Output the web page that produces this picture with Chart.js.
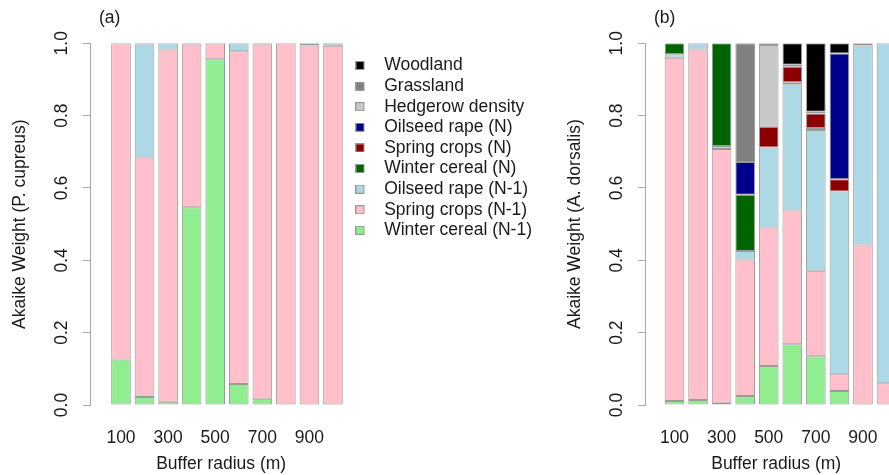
<!DOCTYPE html>
<html>
<head>
<meta charset="utf-8">
<script src="https://cdn.jsdelivr.net/npm/chart.js@4/dist/chart.umd.min.js"></script>
<style>
  html, body { margin: 0; padding: 0; background: #ffffff; }
  body { width: 889px; height: 475px; overflow: hidden; position: relative; }
  canvas { position: absolute; top: 0; }
  #cA { left: 0; }
  #cB { left: 555px; }
</style>
</head>
<body>
<canvas id="cA" width="542" height="475"></canvas>
<canvas id="cB" width="360" height="475"></canvas>
<script>
// ---- data ----
const radii = [100, 200, 300, 400, 500, 600, 700, 800, 900, 1000];
const xTickLabels = [100, 300, 500, 700, 900];
const yTicks = [0, 0.2, 0.4, 0.6, 0.8, 1.0];

const seriesNames = [
  'Winter cereal (N-1)', 'Spring crops (N-1)', 'Oilseed rape (N-1)',
  'Winter cereal (N)', 'Spring crops (N)', 'Oilseed rape (N)',
  'Hedgerow density', 'Grassland', 'Woodland'
];
const seriesColors = [
  '#90EE90', '#FFC0CB', '#ADD8E6',
  '#006400', '#8B0000', '#00008B',
  '#C8C8C8', '#808080', '#000000'
];

// Panel (a): P. cupreus
const aWinterCerealN1 = [0.126, 0.022, 0.009, 0.547, 0.956, 0.058, 0.0175, null, null, null];
const aSpringCropsN1  = [0.874, 0.662, 0.974, 0.450, 0.044, 0.920, 0.9795, 1.000, 0.994, 0.993];
const aOilseedRapeN1  = [null, 0.313, 0.017, null, null, 0.022, null, null, 0.004, 0.007];
const aWinterCerealN  = [null, null, null, null, null, null, null, null, 0.002, null];
const aSpringCropsN   = [null, null, null, 0.003, null, null, 0.003, null, null, null];
const aOilseedRapeN   = [null, null, null, null, null, null, null, null, null, null];
const aHedgerow       = [null, null, null, null, null, null, null, null, null, null];
const aGrassland      = [null, 0.003, null, null, null, null, null, null, null, null];
const aWoodland       = [null, null, null, null, null, null, null, null, null, null];

// Panel (b): A. dorsalis
const bWinterCerealN1 = [0.011, 0.014, 0.006, 0.025, 0.108, 0.168, 0.135, 0.039, null, null];
const bSpringCropsN1  = [0.949, 0.969, 0.702, 0.377, 0.383, 0.370, 0.236, 0.046, 0.444, 0.060];
const bOilseedRapeN1  = [0.010, 0.017, 0.008, 0.024, 0.221, 0.349, 0.389, 0.505, 0.550, 0.940];
const bWinterCerealN  = [0.030, null, 0.284, 0.155, null, 0.005, 0.006, null, null, null];
const bSpringCropsN   = [null, null, null, null, 0.057, 0.043, 0.040, 0.034, 0.006, null];
const bOilseedRapeN   = [null, null, null, 0.091, null, null, null, 0.348, null, null];
const bHedgerow       = [null, null, null, null, 0.226, null, null, null, null, null];
const bGrassland      = [null, null, null, 0.328, 0.005, 0.006, 0.005, null, null, null];
const bWoodland       = [null, null, null, null, null, 0.059, 0.189, 0.028, null, null];

const panelA = [aWinterCerealN1, aSpringCropsN1, aOilseedRapeN1, aWinterCerealN, aSpringCropsN, aOilseedRapeN, aHedgerow, aGrassland, aWoodland];
const panelB = [bWinterCerealN1, bSpringCropsN1, bOilseedRapeN1, bWinterCerealN, bSpringCropsN, bOilseedRapeN, bHedgerow, bGrassland, bWoodland];

// ---- styling ----
const FONT = "'Liberation Sans', Arial, sans-serif";
const FS = 17.5;
const TXT = '#1a1a1a';
const AXIS = '#a8a8a8';

function makeIcon(color) {
  const c = document.createElement('canvas');
  c.width = 20; c.height = 9;
  const g = c.getContext('2d');
  g.fillStyle = color;
  g.fillRect(0, 0, 9, 9);
  g.strokeStyle = '#9a9a9a';
  g.lineWidth = 1;
  g.strokeRect(0.5, 0.5, 8, 8);
  return c;
}
const icons = seriesColors.map(makeIcon);

const panelLabel = {
  id: 'panelLabel',
  afterDraw(chart, args, opts) {
    const ctx = chart.ctx;
    ctx.save();
    ctx.font = FS + 'px ' + FONT;
    ctx.fillStyle = TXT;
    ctx.textBaseline = 'middle';
    ctx.textAlign = 'left';
    ctx.fillText(opts.text, chart.chartArea.left + 9, 18);
    ctx.restore();
  }
};

function buildChart(canvasId, values, opts) {
  const datasets = seriesNames.map((name, i) => ({
    label: name,
    data: values[i],
    backgroundColor: seriesColors[i],
    borderColor: '#9a9a9a',
    borderWidth: 1,
    borderSkipped: false,
    barPercentage: 0.833,
    categoryPercentage: 1.0
  }));
  return new Chart(document.getElementById(canvasId), {
    type: 'bar',
    data: { labels: radii, datasets },
    plugins: [panelLabel],
    options: {
      responsive: false,
      animation: false,
      devicePixelRatio: 1,
      layout: { padding: { left: 0, top: 43.3, right: opts.padRight, bottom: 0 } },
      plugins: {
        tooltip: { enabled: false },
        panelLabel: { text: opts.label },
        legend: {
          display: opts.legend,
          position: 'right',
          align: 'start',
          reverse: true,
          maxWidth: 240,
          title: { display: true, text: '', font: { size: 1, lineHeight: 1 }, padding: { top: 9.35, bottom: 0 } },
          labels: {
            usePointStyle: true,
            pointStyleWidth: 20,
            boxHeight: 9,
            padding: 3.1,
            color: TXT,
            font: { family: FONT, size: FS },
            generateLabels(chart) {
              const items = Chart.defaults.plugins.legend.labels.generateLabels(chart);
              return items.map(it => Object.assign(it, { pointStyle: icons[it.datasetIndex] }));
            }
          }
        }
      },
      scales: {
        x: {
          type: 'linear',
          stacked: true,
          offset: false,
          bounds: 'data',
          min: opts.xMin,
          max: opts.xMax,
          afterDataLimits(s) { s.min = opts.xMin; s.max = opts.xMax; },
          afterBuildTicks(s) { s.ticks = xTickLabels.map(v => ({ value: v })); },
          afterFit(s) { s.height = 70; },
          grid: { display: false, drawTicks: false, offset: false },
          border: { display: false },
          ticks: {
            autoSkip: false, maxRotation: 0, padding: 22.5,
            color: TXT, font: { family: FONT, size: FS },
            callback: v => String(v)
          },
          title: {
            display: true, text: 'Buffer radius (m)',
            color: TXT, font: { family: FONT, size: FS },
            padding: { top: 0, bottom: 0 }
          }
        },
        y: {
          type: 'linear',
          stacked: true,
          min: 0,
          max: 1,
          afterBuildTicks(s) { s.ticks = yTicks.map(v => ({ value: v })); },
          afterFit(s) { s.width = 90; },
          grid: { drawOnChartArea: false, drawTicks: true, tickLength: 7, color: AXIS, lineWidth: 1 },
          border: { display: true, color: AXIS, width: 1 },
          ticks: {
            autoSkip: false, minRotation: 90, maxRotation: 90, crossAlign: 'center', padding: 8.3,
            color: TXT, font: { family: FONT, size: FS },
            callback: v => Number(v).toFixed(1)
          },
          title: {
            display: true, text: opts.yTitle,
            color: TXT, font: { family: FONT, size: FS },
            padding: { top: 9.5, bottom: 0 }
          }
        }
      }
    }
  });
}

buildChart('cA', panelA, {
  label: '(a)', yTitle: 'Akaike Weight (P. cupreus)', legend: true,
  padRight: 0, xMin: -31.6, xMax: 1082.2
});
buildChart('cB', panelB, {
  label: '(b)', yTitle: 'Akaike Weight (A. dorsalis)', legend: false,
  padRight: 7.6, xMin: -25.2, xMax: 1088.6
});
</script>
</body>
</html>
